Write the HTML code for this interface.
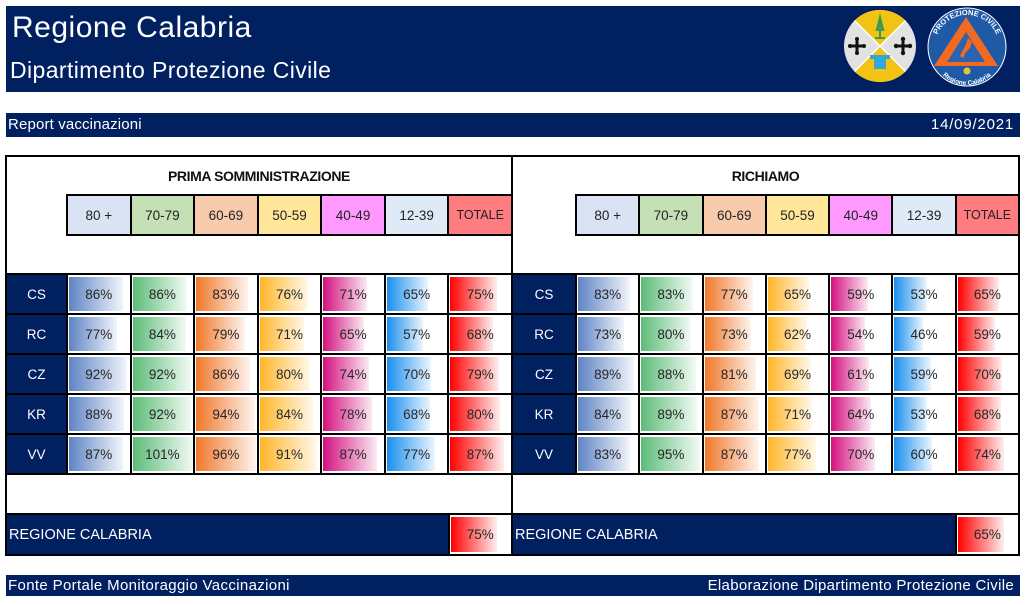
<!DOCTYPE html>
<html><head><meta charset="utf-8">
<style>
*{box-sizing:border-box;margin:0;padding:0}
html,body{width:1029px;height:605px;overflow:hidden;background:#fff;font-family:"Liberation Sans",sans-serif;position:relative}
.nb{position:absolute;left:6px;width:1014px;background:#002060}
.t{position:absolute;color:#fff;white-space:nowrap;line-height:1}
.box{position:absolute;border:2px solid #000}
.g{position:absolute;background:#000;padding:2px;display:grid;gap:2px}
.gl{left:5px;width:508px;grid-template-columns:59px repeat(7,1fr)}
.gr{left:511px;width:509px;grid-template-columns:62px repeat(7,1fr)}
.data{top:273px;height:202px;grid-template-rows:repeat(5,38px)}
.hdr{top:194px;height:42px;grid-template-columns:repeat(7,1fr);grid-template-rows:38px}
.l{background:#002060;color:#fff;display:flex;align-items:center;justify-content:center;font-size:13.5px}
.h{display:flex;align-items:center;justify-content:center;font-size:13.5px;color:#222}
.d{background:#fff;position:relative;display:flex;align-items:center;justify-content:center;font-size:13.5px;color:#262626}
.d i{position:absolute;left:1px;top:2px;bottom:2px}
.d span{position:relative}
.c1{background:linear-gradient(90deg,#5f84c4,#f2f5fb)}
.c2{background:linear-gradient(90deg,#5cbc78,#f2faf4)}
.c3{background:linear-gradient(90deg,#f0782a,#fef4ee)}
.c4{background:linear-gradient(90deg,#ffb62a,#fff8ea)}
.c5{background:linear-gradient(90deg,#d4117f,#fbeaf3)}
.c6{background:linear-gradient(90deg,#1a8fee,#ebf5fe)}
.c7{background:linear-gradient(90deg,#ff0000,#feeeee)}
.ttl{position:absolute;top:168px;font-weight:bold;font-size:14px;letter-spacing:-0.4px;color:#111;text-align:center;line-height:16px}
.reg{position:absolute;top:513px;height:43px;background:#000;padding:2px;display:grid;gap:2px}
.regn{background:#002060;color:#fff;font-size:14.5px;display:flex;align-items:center;padding-left:2px;padding-top:1px}
</style></head><body>

<div class="nb" style="top:6px;height:86px"></div>
<div class="t" style="left:12px;top:13px;font-size:30px;letter-spacing:0.5px">Regione Calabria</div>
<div class="t" style="left:10px;top:58.5px;font-size:23px;letter-spacing:0.4px">Dipartimento Protezione Civile</div>

<svg style="position:absolute;left:835px;top:0" width="185" height="95" viewBox="835 0 185 95">
  <circle cx="880" cy="46" r="36" fill="#e2e2e2"/>
  <path d="M880 46 L854.5 20.5 A36 36 0 0 1 905.5 20.5 Z" fill="#f2c314"/>
  <path d="M880 46 L905.5 71.5 A36 36 0 0 1 854.5 71.5 Z" fill="#f2c314"/>
  <line x1="854.5" y1="20.5" x2="905.5" y2="71.5" stroke="#fff" stroke-width="1.5"/>
  <line x1="905.5" y1="20.5" x2="854.5" y2="71.5" stroke="#fff" stroke-width="1.5"/>
  <polygon points="880,13 875.5,31 884.5,31" fill="#3e9b4f"/>
  <rect x="879" y="30" width="2" height="8" fill="#3e9b4f"/>
  <rect x="875" y="37" width="10" height="2" fill="#3e9b4f"/>
  <rect x="870" y="55" width="20" height="4" fill="#35a7d6"/>
  <rect x="874" y="59" width="12" height="10" fill="#35a7d6"/>
  <g fill="#111">
    <rect x="850" y="44.5" width="14" height="3"/><rect x="855.5" y="39" width="3" height="14"/>
    <circle cx="850" cy="46" r="2"/><circle cx="864" cy="46" r="2"/><circle cx="857" cy="39" r="2"/><circle cx="857" cy="53" r="2"/>
    <rect x="896" y="44.5" width="14" height="3"/><rect x="901.5" y="39" width="3" height="14"/>
    <circle cx="896" cy="46" r="2.2"/><circle cx="910" cy="46" r="2.2"/><circle cx="903" cy="39" r="2.2"/><circle cx="903" cy="53" r="2.2"/>
  </g>
  <circle cx="967" cy="47" r="39.5" fill="#fff"/>
  <circle cx="967" cy="47" r="38.5" fill="#1f5aa6"/>
  <polygon points="966,17 934,66 998,66" fill="#f26a21"/>
  <polygon points="966,32 947,62 985,62" fill="#2b63b0"/>
  <path d="M968 38 L972 42 L970 48 L966 52 L963 58 L960 56 L963 50 L966 44 Z" fill="#f26a21"/>
  <circle cx="967" cy="71" r="3.5" fill="#e8c23a"/>
  <defs>
    <path id="arcT" d="M935 47 A32 32 0 0 1 999 47"/>
    <path id="arcB" d="M932 50 A35 35 0 0 0 1002 50"/>
  </defs>
  <text font-family="Liberation Sans, sans-serif" font-size="7.5" font-weight="bold" fill="#fff"><textPath href="#arcT" startOffset="50%" text-anchor="middle">PROTEZIONE CIVILE</textPath></text>
  <text font-family="Liberation Sans, sans-serif" font-size="6.5" font-weight="bold" fill="#fff"><textPath href="#arcB" startOffset="50%" text-anchor="middle">Regione Calabria</textPath></text>
</svg>

<div class="nb" style="top:113px;height:24px"></div>
<div class="t" style="left:8px;top:117px;font-size:15px;letter-spacing:0.15px">Report vaccinazioni</div>
<div class="t" style="right:15px;top:117px;font-size:15px;letter-spacing:0.8px">14/09/2021</div>

<!-- LEFT TABLE -->
<div class="box" style="left:5px;top:155px;width:508px;height:401px"></div>
<div class="ttl" style="left:5px;width:508px">PRIMA SOMMINISTRAZIONE</div>
<div class="g hdr" style="left:66px;width:447px">
  <div class="h" style="background:#dae3f3">80 +</div>
  <div class="h" style="background:#c5e0b4">70-79</div>
  <div class="h" style="background:#f8cbad">60-69</div>
  <div class="h" style="background:#ffe699">50-59</div>
  <div class="h" style="background:#ff99ff">40-49</div>
  <div class="h" style="background:#deebf7">12-39</div>
  <div class="h" style="background:#ff7c80;font-size:12.5px">TOTALE</div>
</div>
<div class="g gl data">
  <div class="l">CS</div>
  <div class="d"><i class="c1" style="width:54px"></i><span>86%</span></div>
  <div class="d"><i class="c2" style="width:54px"></i><span>86%</span></div>
  <div class="d"><i class="c3" style="width:52px"></i><span>83%</span></div>
  <div class="d"><i class="c4" style="width:48px"></i><span>76%</span></div>
  <div class="d"><i class="c5" style="width:44px"></i><span>71%</span></div>
  <div class="d"><i class="c6" style="width:41px"></i><span>65%</span></div>
  <div class="d"><i class="c7" style="width:47px"></i><span>75%</span></div>
  <div class="l">RC</div>
  <div class="d"><i class="c1" style="width:48px"></i><span>77%</span></div>
  <div class="d"><i class="c2" style="width:53px"></i><span>84%</span></div>
  <div class="d"><i class="c3" style="width:49px"></i><span>79%</span></div>
  <div class="d"><i class="c4" style="width:44px"></i><span>71%</span></div>
  <div class="d"><i class="c5" style="width:41px"></i><span>65%</span></div>
  <div class="d"><i class="c6" style="width:36px"></i><span>57%</span></div>
  <div class="d"><i class="c7" style="width:43px"></i><span>68%</span></div>
  <div class="l">CZ</div>
  <div class="d"><i class="c1" style="width:58px"></i><span>92%</span></div>
  <div class="d"><i class="c2" style="width:58px"></i><span>92%</span></div>
  <div class="d"><i class="c3" style="width:54px"></i><span>86%</span></div>
  <div class="d"><i class="c4" style="width:50px"></i><span>80%</span></div>
  <div class="d"><i class="c5" style="width:46px"></i><span>74%</span></div>
  <div class="d"><i class="c6" style="width:44px"></i><span>70%</span></div>
  <div class="d"><i class="c7" style="width:49px"></i><span>79%</span></div>
  <div class="l">KR</div>
  <div class="d"><i class="c1" style="width:55px"></i><span>88%</span></div>
  <div class="d"><i class="c2" style="width:58px"></i><span>92%</span></div>
  <div class="d"><i class="c3" style="width:59px"></i><span>94%</span></div>
  <div class="d"><i class="c4" style="width:53px"></i><span>84%</span></div>
  <div class="d"><i class="c5" style="width:49px"></i><span>78%</span></div>
  <div class="d"><i class="c6" style="width:43px"></i><span>68%</span></div>
  <div class="d"><i class="c7" style="width:50px"></i><span>80%</span></div>
  <div class="l">VV</div>
  <div class="d"><i class="c1" style="width:54px"></i><span>87%</span></div>
  <div class="d"><i class="c2" style="width:60px"></i><span>101%</span></div>
  <div class="d"><i class="c3" style="width:60px"></i><span>96%</span></div>
  <div class="d"><i class="c4" style="width:57px"></i><span>91%</span></div>
  <div class="d"><i class="c5" style="width:54px"></i><span>87%</span></div>
  <div class="d"><i class="c6" style="width:48px"></i><span>77%</span></div>
  <div class="d"><i class="c7" style="width:54px"></i><span>87%</span></div>
</div>
<div class="reg" style="left:5px;width:508px;grid-template-columns:1fr 61.5px">
  <div class="regn">REGIONE CALABRIA</div>
  <div class="d"><i class="c7" style="width:46px"></i><span>75%</span></div>
</div>

<!-- RIGHT TABLE -->
<div class="box" style="left:511px;top:155px;width:509px;height:401px"></div>
<div class="ttl" style="left:511px;width:509px">RICHIAMO</div>
<div class="g hdr" style="left:575px;width:445px">
  <div class="h" style="background:#dae3f3">80 +</div>
  <div class="h" style="background:#c5e0b4">70-79</div>
  <div class="h" style="background:#f8cbad">60-69</div>
  <div class="h" style="background:#ffe699">50-59</div>
  <div class="h" style="background:#ff99ff">40-49</div>
  <div class="h" style="background:#deebf7">12-39</div>
  <div class="h" style="background:#ff7c80;font-size:12.5px">TOTALE</div>
</div>
<div class="g gr data">
  <div class="l">CS</div>
  <div class="d"><i class="c1" style="width:52px"></i><span>83%</span></div>
  <div class="d"><i class="c2" style="width:52px"></i><span>83%</span></div>
  <div class="d"><i class="c3" style="width:48px"></i><span>77%</span></div>
  <div class="d"><i class="c4" style="width:41px"></i><span>65%</span></div>
  <div class="d"><i class="c5" style="width:37px"></i><span>59%</span></div>
  <div class="d"><i class="c6" style="width:33px"></i><span>53%</span></div>
  <div class="d"><i class="c7" style="width:41px"></i><span>65%</span></div>
  <div class="l">RC</div>
  <div class="d"><i class="c1" style="width:46px"></i><span>73%</span></div>
  <div class="d"><i class="c2" style="width:50px"></i><span>80%</span></div>
  <div class="d"><i class="c3" style="width:46px"></i><span>73%</span></div>
  <div class="d"><i class="c4" style="width:39px"></i><span>62%</span></div>
  <div class="d"><i class="c5" style="width:34px"></i><span>54%</span></div>
  <div class="d"><i class="c6" style="width:29px"></i><span>46%</span></div>
  <div class="d"><i class="c7" style="width:37px"></i><span>59%</span></div>
  <div class="l">CZ</div>
  <div class="d"><i class="c1" style="width:56px"></i><span>89%</span></div>
  <div class="d"><i class="c2" style="width:55px"></i><span>88%</span></div>
  <div class="d"><i class="c3" style="width:51px"></i><span>81%</span></div>
  <div class="d"><i class="c4" style="width:43px"></i><span>69%</span></div>
  <div class="d"><i class="c5" style="width:38px"></i><span>61%</span></div>
  <div class="d"><i class="c6" style="width:37px"></i><span>59%</span></div>
  <div class="d"><i class="c7" style="width:44px"></i><span>70%</span></div>
  <div class="l">KR</div>
  <div class="d"><i class="c1" style="width:53px"></i><span>84%</span></div>
  <div class="d"><i class="c2" style="width:56px"></i><span>89%</span></div>
  <div class="d"><i class="c3" style="width:54px"></i><span>87%</span></div>
  <div class="d"><i class="c4" style="width:44px"></i><span>71%</span></div>
  <div class="d"><i class="c5" style="width:40px"></i><span>64%</span></div>
  <div class="d"><i class="c6" style="width:33px"></i><span>53%</span></div>
  <div class="d"><i class="c7" style="width:43px"></i><span>68%</span></div>
  <div class="l">VV</div>
  <div class="d"><i class="c1" style="width:52px"></i><span>83%</span></div>
  <div class="d"><i class="c2" style="width:59px"></i><span>95%</span></div>
  <div class="d"><i class="c3" style="width:54px"></i><span>87%</span></div>
  <div class="d"><i class="c4" style="width:48px"></i><span>77%</span></div>
  <div class="d"><i class="c5" style="width:44px"></i><span>70%</span></div>
  <div class="d"><i class="c6" style="width:38px"></i><span>60%</span></div>
  <div class="d"><i class="c7" style="width:46px"></i><span>74%</span></div>
</div>
<div class="reg" style="left:511px;width:509px;grid-template-columns:1fr 61.3px">
  <div class="regn">REGIONE CALABRIA</div>
  <div class="d"><i class="c7" style="width:46px"></i><span>65%</span></div>
</div>

<div class="nb" style="top:575px;height:21px"></div>
<div class="t" style="left:8px;top:578px;font-size:15px;letter-spacing:0.35px">Fonte Portale Monitoraggio Vaccinazioni</div>
<div class="t" style="right:15px;top:578px;font-size:15px;letter-spacing:0.3px">Elaborazione Dipartimento Protezione Civile</div>

</body></html>
